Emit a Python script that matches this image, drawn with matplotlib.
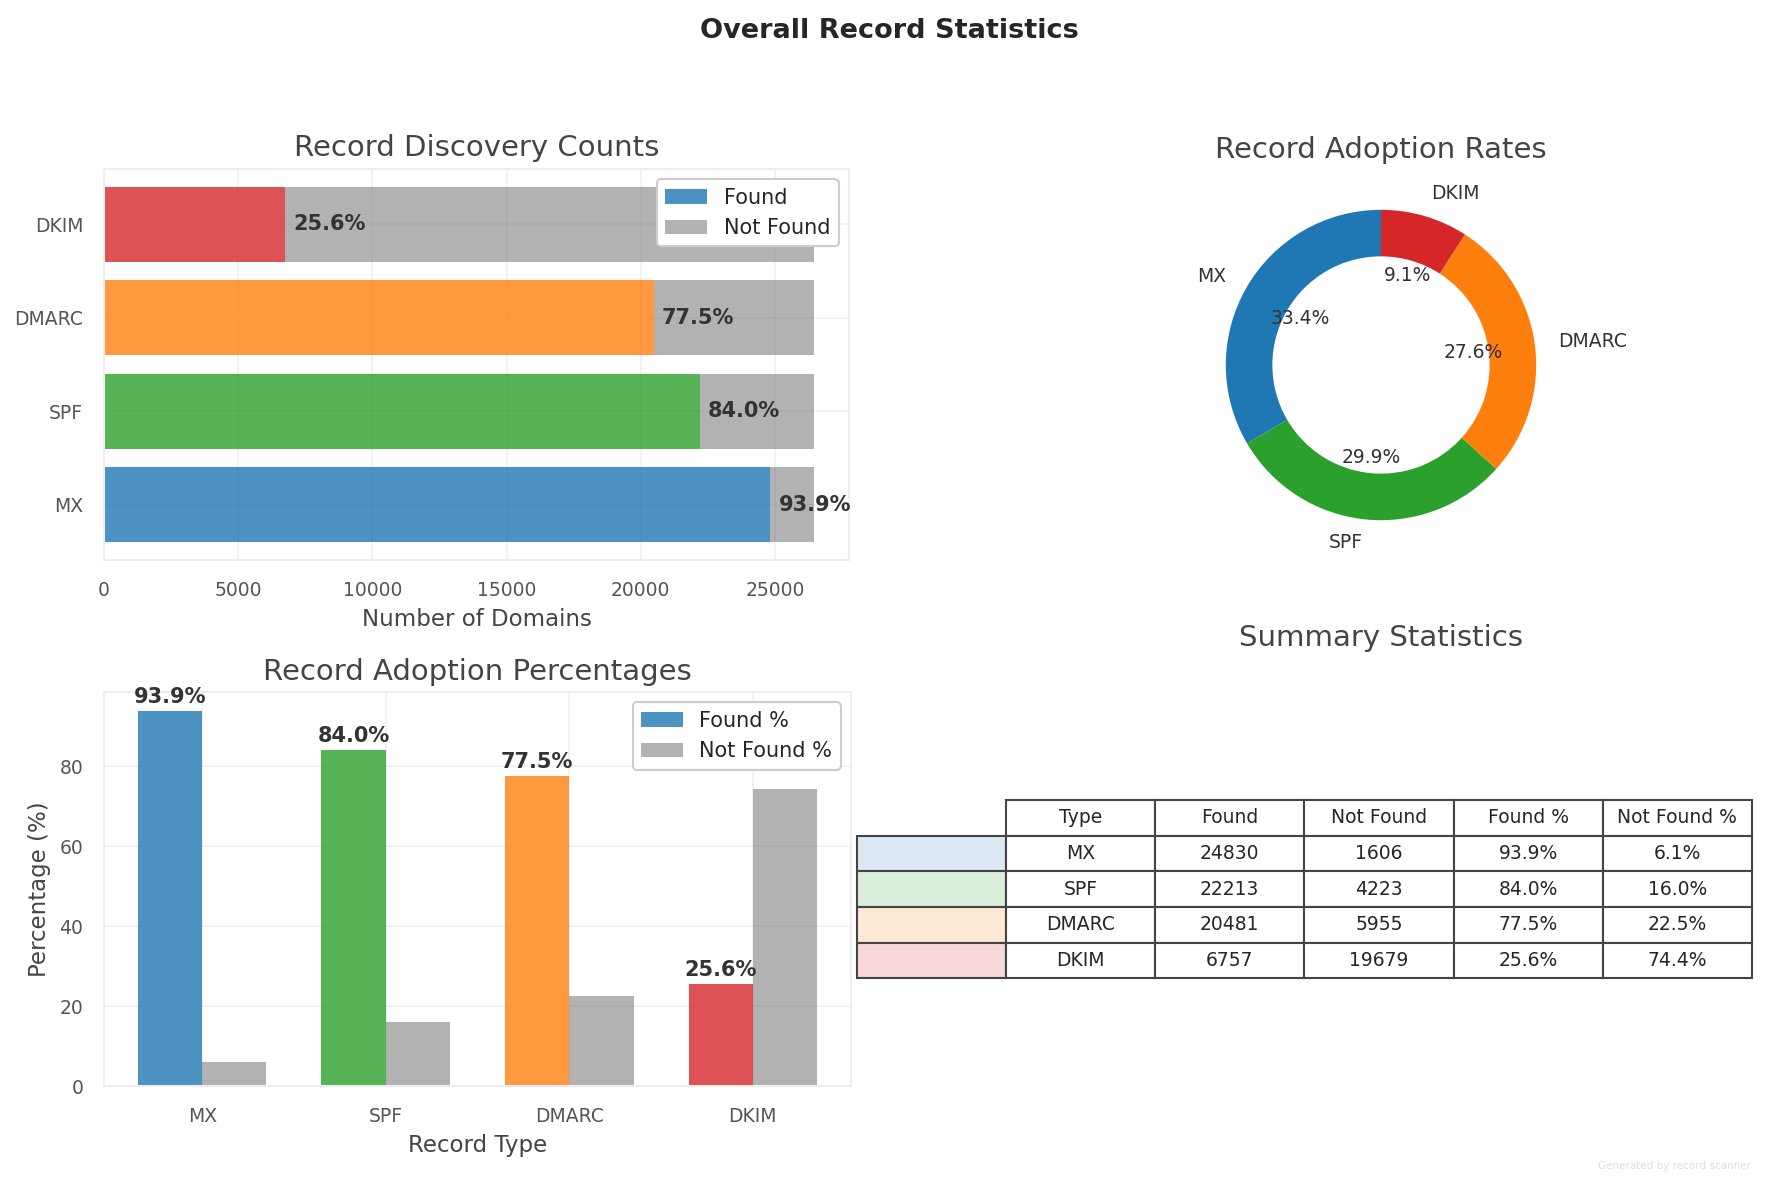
import matplotlib.pyplot as plt
import numpy as np

# record types and counts
record_types = ['MX', 'SPF', 'DMARC', 'DKIM']
found = [24830, 22213, 20481, 6757]
not_found = [1606, 4223, 5955, 19679]
found_pct = [93.9, 84.0, 77.5, 25.6]
not_found_pct = [6.1, 16.0, 22.5, 74.4]
colors = ['#1f77b4', '#2ca02c', '#ff7f0e', '#d62728']
row_colors = ['#dce9f4', '#d9efd9', '#fde7d5', '#f6d8d8']
col_labels = ['Type', 'Found', 'Not Found', 'Found %', 'Not Found %']

plt.style.use('seaborn-v0_8-whitegrid')
plt.rcParams['font.family'] = ['DejaVu Sans']

fig = plt.figure(figsize=(1778 / 150, 1185 / 150), dpi=150)
fig.suptitle('Overall Record Statistics', fontsize=13, fontweight='bold', y=0.985)

W, H = 1778.0, 1185.0

def box(x0, y0, x1, y1):
    return [x0 / W, 1 - y1 / H, (x1 - x0) / W, (y1 - y0) / H]

# horizontal stacked bars
ax1 = fig.add_axes(box(104, 169, 849, 560))
y = np.arange(len(record_types))
ax1.barh(y, found, color=colors, alpha=0.8, height=0.8, label='Found')
ax1.barh(y, not_found, left=found, color='gray', alpha=0.6, height=0.8, label='Not Found')
for i in range(len(record_types)):
    ax1.text(found[i] + 300, y[i], f'{found_pct[i]:.1f}%', va='center', ha='left',
             fontsize=10, fontweight='bold', color='#333333')
ax1.set_yticks(y)
ax1.set_yticklabels(record_types)
ax1.set_xlabel('Number of Domains', fontsize=11, color='#444444')
ax1.set_title('Record Discovery Counts', fontsize=14, color='#444444')
ax1.tick_params(colors='#555555', labelsize=9, pad=10)
ax1.grid(alpha=0.3)
for s in ax1.spines.values():
    s.set_color('#eeeeee')
ax1.legend(loc='upper right', frameon=True, framealpha=1.0, fontsize=10)

# donut
ax2 = fig.add_axes(box(1187, 171, 1575, 559))
wedges, texts, autotexts = ax2.pie(found, labels=record_types, colors=colors, startangle=90,
                                   autopct='%1.1f%%', pctdistance=0.6, labeldistance=1.15,
                                   wedgeprops=dict(width=0.3))
for t in texts:
    t.set_fontsize(9)
    t.set_color('#333333')
for t in autotexts:
    t.set_fontsize(9)
    t.set_color('#333333')
ax2.set_title('Record Adoption Rates', fontsize=14, color='#444444')

# grouped bars of percentages
ax3 = fig.add_axes(box(104, 692, 851, 1086))
x = np.arange(len(record_types))
w = 0.35
ax3.bar(x - w / 2, found_pct, w, color=colors, alpha=0.8, label='Found %')
ax3.bar(x + w / 2, not_found_pct, w, color='gray', alpha=0.6, label='Not Found %')
for i in range(len(record_types)):
    ax3.text(x[i] - w / 2, found_pct[i] + 1, f'{found_pct[i]:.1f}%', ha='center', va='bottom',
             fontsize=10, fontweight='bold', color='#333333')
ax3.set_xticks(x)
ax3.set_xticklabels(record_types)
ax3.set_xlabel('Record Type', fontsize=11, color='#444444')
ax3.set_ylabel('Percentage (%)', fontsize=11, color='#444444')
ax3.set_title('Record Adoption Percentages', fontsize=14, color='#444444')
ax3.tick_params(colors='#555555', labelsize=9, pad=10)
ax3.grid(alpha=0.3)
for s in ax3.spines.values():
    s.set_color('#eeeeee')
ax3.legend(loc='upper right', frameon=True, framealpha=1.0, fontsize=10)

# summary table
ax4 = fig.add_axes(box(1008, 658, 1754, 1086))
ax4.axis('off')
ax4.set_title('Summary Statistics', fontsize=14, color='#444444')
cells = []
for i in range(len(record_types)):
    cells.append([record_types[i], str(found[i]), str(not_found[i]),
                  f'{found_pct[i]:.1f}%', f'{not_found_pct[i]:.1f}%'])
# bbox covers the data columns; the coloured row-label column hangs to the left
tab = ax4.table(cellText=cells, colLabels=col_labels, colWidths=[1 / 6] * 5,
                cellLoc='center', bbox=[-0.036, 0.252, 1.0, 0.416])
ch = tab[1, 0].get_height()
for i in range(len(record_types)):
    tab.add_cell(i + 1, -1, width=1 / 6, height=ch, text='', facecolor=row_colors[i])
tab.auto_set_font_size(False)
tab.set_fontsize(9)
for (r, c), cell in tab.get_celld().items():
    cell.set_edgecolor('#444444')

fig.text(0.985, 0.012, 'Generated by record scanner', ha='right', va='bottom',
         fontsize=5, color='#dddddd')

plt.savefig('out.png', dpi=150)
